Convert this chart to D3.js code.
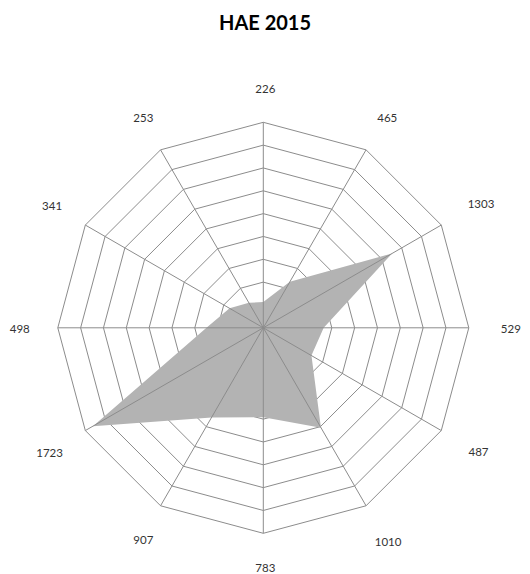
<!DOCTYPE html>
<html>
<head>
<meta charset="utf-8">
<script src="https://cdn.jsdelivr.net/npm/d3@7"></script>
<style>
  body { margin: 0; background: #fff; }
  text { font-family: Lato, "Open Sans", sans-serif; }
</style>
</head>
<body>
<div id="fig"></div>
<script>
var title = "HAE 2015";
var categories = ["226", "465", "1303", "529", "487", "1010", "783", "907", "1723", "498", "341", "253"];
var values = [226, 465, 1303, 529, 487, 1010, 783, 907, 1723, 498, 341, 253];
var ringTicks = [200, 400, 600, 800, 1000, 1200, 1400, 1600, 1800];

var width = 530, height = 574,
    cx = 263.3, cy = 327.8,
    R = 205.5;

var svg = d3.select("#fig").append("svg")
    .attr("width", width)
    .attr("height", height);

svg.append("text")
  .attr("x", 265)
  .attr("y", 30)
  .attr("text-anchor", "middle")
  .style("font-size", "20px")
  .style("font-weight", "bold")
  .attr("fill", "#000")
  .text(title);

var r = d3.scaleLinear().domain([0, 1800]).range([0, R]);
var angle = d3.scaleLinear().domain([0, categories.length]).range([0, 2 * Math.PI]);

var g = svg.append("g").attr("transform", "translate(" + cx + "," + cy + ")");

// rings (under the area)
var radial = d3.lineRadial()
  .angle(function(d, i) { return angle(i); })
  .radius(function(d) { return r(d); })
  .curve(d3.curveLinearClosed);

g.selectAll("path.ring")
  .data(ringTicks)
  .enter().append("path")
    .attr("class", "ring")
    .attr("d", function(t) { return radial(categories.map(function() { return t; })); })
    .attr("fill", "none")
    .attr("stroke", "#8c8c8c")
    .attr("stroke-width", 1);

// series area
g.append("path")
  .attr("d", radial(values))
  .attr("fill", "#b3b3b3")
  .attr("stroke", "none");

// spokes on top
g.selectAll("line.spoke")
  .data(categories)
  .enter().append("line")
    .attr("class", "spoke")
    .attr("x1", 0).attr("y1", 0)
    .attr("x2", function(d, i) { return r(1800) * Math.sin(angle(i)); })
    .attr("y2", function(d, i) { return -r(1800) * Math.cos(angle(i)); })
    .attr("stroke", "#8c8c8c")
    .attr("stroke-width", 1);

// category labels
var fs = 11.5;
g.selectAll("text.cat")
  .data(categories)
  .enter().append("text")
    .attr("class", "cat")
    .style("font-size", fs + "px")
    .attr("fill", "#333")
    .attr("text-anchor", "middle")
    .text(function(d) { return d; })
    .each(function(d, i) {
      var a = angle(i);
      var w = this.getComputedTextLength();
      var s = Math.sin(a), c = Math.cos(a);
      var dist = R + 30 + (w / 2) * Math.abs(s) + 4 * Math.abs(c);
      d3.select(this)
        .attr("x", dist * s + 2)
        .attr("y", -dist * c + fs * 0.35 + 1);
    });
</script>
</body>
</html>
